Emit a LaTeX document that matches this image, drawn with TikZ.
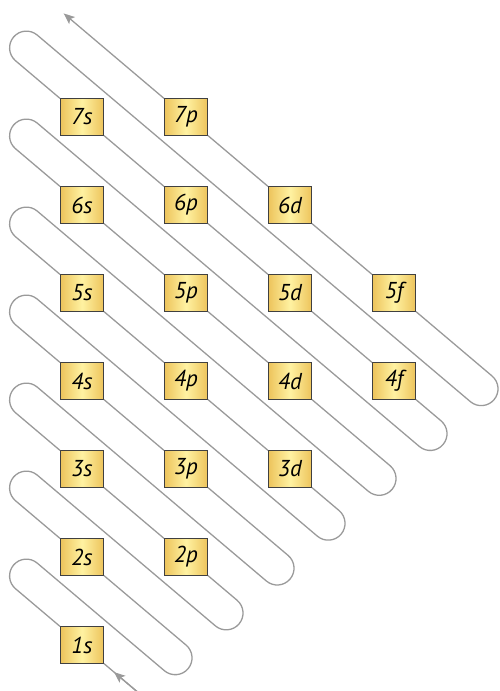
\documentclass[tikz,border=0pt]{standalone}
\usepackage{fontspec}
\setmainfont{PT Sans}
\usetikzlibrary{arrows.meta}
\definecolor{orbedge}{HTML}{EDC45C}
\definecolor{orbmid}{HTML}{FFF2A2}
\definecolor{wiregray}{HTML}{9A9A9A}
\tikzset{
  orb/.style={rectangle, draw=black!75, line width=0.5pt, left color=orbedge,
              right color=orbedge, middle color=orbmid, minimum width=21.5pt,
              minimum height=18.5pt, inner sep=0pt,
              font=\fontsize{11.5}{13}\selectfont\itshape},
  wire/.style={draw=wiregray, line width=0.65pt, rounded corners=8.4pt},
  arr/.style={wire, -{Stealth[length=5.5pt, width=4.5pt, inset=1.2pt]}}
}

\begin{document}
\begin{tikzpicture}[x=0.5pt, y=-0.5pt]
  \useasboundingbox (0,0) rectangle (499,691);
  % subshell boxes, one column per l
  \foreach \l/\c/\lo/\hi in {s/0/1/7, p/1/2/7, d/2/3/6, f/3/4/5} {
    \foreach \n in {\lo,...,\hi}
      \node[orb] (\n\l) at ({82+104*\c},{645-88*(\n-1)}) {\n\l};
  }
  % straight runs along one diagonal
  \foreach \a/\b in {2p/3s, 3p/4s, 3d/4p, 4p/5s, 4d/5p, 5p/6s,
                     4f/5d, 5d/6p, 6p/7s, 5f/6d, 6d/7p}
    \draw[wire] (\a) -- (\b);
  % hairpins, in a frame turned along the diagonals
  \begin{scope}[shift={(82,645)}, rotate=-40.24]
    \coordinate (in) at (72,0);
    \coordinate (inhead) at (42,0);
    \coordinate (out) at (-422,-470.3);
    \foreach \k/\low in {1/2s, 2/2p, 3/3p, 4/3d, 5/4d, 6/4f, 7/5f} {
      \pgfmathsetmacro\ya{-67.18*(\k-1)}
      \pgfmathsetmacro\yb{\ya-33.6}
      \pgfmathsetmacro\yc{\ya-67.18}
      \pgfmathsetmacro\xl{-103.9-56.85*(\k-1)}
      \pgfmathsetmacro\xr{96.3+9.96*(\k-1)}
      \draw[wire] (\k s) -- (\xl,\ya) -- (\xl,\yb) -- (\xr,\yb) -- (\xr,\yc) -- (\low);
    }
  \end{scope}
  \draw[wire] (in) -- (1s);
  \draw[arr] (in) -- (inhead);
  \draw[arr] (7p) -- (out);
\end{tikzpicture}
\end{document}
